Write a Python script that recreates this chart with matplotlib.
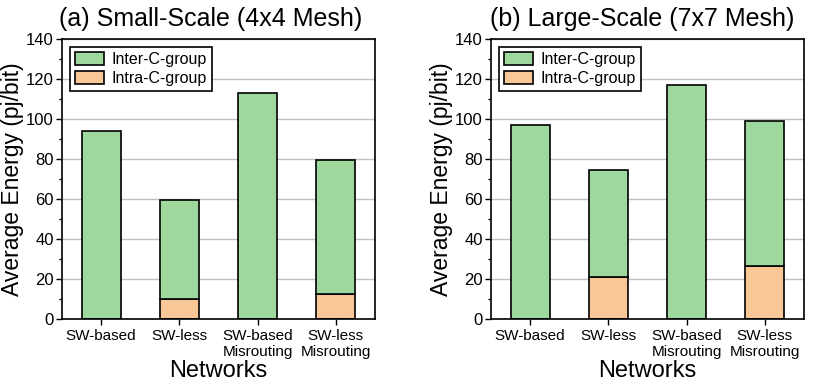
import matplotlib
matplotlib.use("Agg")
import matplotlib.pyplot as plt
from matplotlib.ticker import MultipleLocator

plt.rcParams['font.family'] = ['Liberation Sans', 'DejaVu Sans']

categories = ["SW-based", "SW-less", "SW-based\nMisrouting", "SW-less\nMisrouting"]
titles = ["(a) Small-Scale (4x4 Mesh)", "(b) Large-Scale (7x7 Mesh)"]
# totals and intra parts
small_total = [94, 59.3, 113.2, 79.5]
small_intra = [0, 9.8, 0, 12.7]
large_total = [97.2, 74.7, 117, 99]
large_intra = [0, 20.8, 0, 26.5]

green = "#9fd89d"
orange = "#f9c896"

fig = plt.figure(figsize=(8.14, 3.86), dpi=100)
axes = [fig.add_axes([0.0762, 0.1736, 0.3845, 0.7254]),
        fig.add_axes([0.6032, 0.1736, 0.3845, 0.7254])]
title_x = [0.474, 0.484]

for ax, title, tx, tot, intra in zip(axes, titles, title_x, [small_total, large_total], [small_intra, large_intra]):
    x = range(len(categories))
    inter = [t - i for t, i in zip(tot, intra)]
    ax.set_axisbelow(True)
    ax.grid(axis='y', color='#c0c0c0', linewidth=1)
    b2 = ax.bar(x, intra, width=0.5, color=orange, edgecolor='black', linewidth=1.2, label='Intra-C-group')
    b1 = ax.bar(x, inter, width=0.5, bottom=intra, color=green, edgecolor='black', linewidth=1.2, label='Inter-C-group')
    ax.set_xlim(-0.5, 3.5)
    ax.set_ylim(0, 140)
    ax.yaxis.set_major_locator(MultipleLocator(20))
    ax.yaxis.set_minor_locator(MultipleLocator(10))
    ax.set_xticks(list(x))
    ax.set_xticklabels(categories, fontsize=11, linespacing=1.15)
    ax.tick_params(axis='y', labelsize=12, pad=2)
    ax.tick_params(direction='out', length=4, width=1)
    ax.tick_params(which='minor', direction='out', length=2.5, width=1)
    for s in ax.spines.values():
        s.set_linewidth(1.2)
    ax.set_title(title, fontsize=18, pad=9, x=tx)
    ax.set_xlabel("Networks", fontsize=17, labelpad=1)
    leg = ax.legend(handles=[b1, b2], loc='upper left', fontsize=11.5, frameon=True, fancybox=False,
                    edgecolor='black', framealpha=1, borderpad=0.3, handlelength=1.8, handleheight=0.9,
                    handletextpad=0.5, labelspacing=0.25, borderaxespad=0.5)
    leg.get_frame().set_linewidth(1.2)

axes[0].set_ylabel("Average Energy (pj/bit)", fontsize=16.5, labelpad=1)
axes[1].set_ylabel("Average Energy (pj/bit)", fontsize=16.5, labelpad=1)

fig.savefig("out.png", dpi=100)
